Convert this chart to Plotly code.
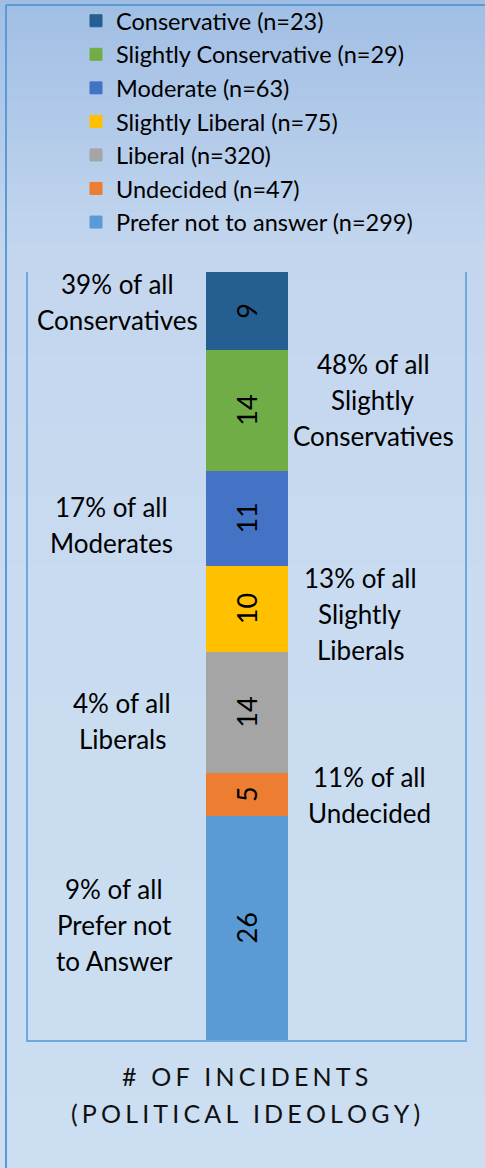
import plotly.graph_objects as go

# Ideology groups, stacked from the bottom of the bar upwards
groups = ["Prefer not to answer", "Undecided", "Liberal", "Slightly Liberal",
          "Moderate", "Slightly Conservative", "Conservative"]
group_plural = ["Prefer not<br>to Answer", "Undecided", "Liberals", "Slightly<br>Liberals",
                "Moderates", "Slightly<br>Conservatives", "Conservatives"]
respondents = [299, 47, 320, 75, 63, 29, 23]
incidents = [26, 5, 14, 10, 11, 14, 9]
colors = ["#5b9bd5", "#ed7d31", "#a5a5a5", "#ffc000", "#4472c4", "#70ad47", "#255e91"]
label_side = ["left", "right", "left", "right", "left", "right", "left"]
title_lines = ["# OF INCIDENTS", "(POLITICAL IDEOLOGY)"]

W, H = 485, 1168
ML, MR, MT, MB = 28, 20, 272, 128
PW, PH = W - ML - MR, H - MT - MB
FONT = "Lato, 'Open Sans', sans-serif"


def px_x(px):
    return (px - ML) / PW


def px_y(py):
    return (H - MB - py) / PH


fig = go.Figure()
for name, n, v, c in zip(groups, respondents, incidents, colors):
    fig.add_trace(go.Bar(
        x=[""], y=[v], name=f"{name} (n={n})",
        marker=dict(color=c, line=dict(width=1, color=c)),
        text=[str(v)], textposition="inside", insidetextanchor="middle",
        textangle=-90, textfont=dict(color="black", size=27, family=FONT),
        hoverinfo="skip",
    ))

# Background: vertical gradient built from thin bands
stops = [(0, (160, 190, 228)), (250, (195, 214, 238)),
         (600, (200, 219, 240)), (H, (204, 222, 241))]


def grad(py):
    for (y0, c0), (y1, c1) in zip(stops[:-1], stops[1:]):
        if y0 <= py <= y1:
            t = (py - y0) / (y1 - y0)
            return tuple(round(a + (b - a) * t) for a, b in zip(c0, c1))
    return stops[-1][1]


shapes = []
step = 4
for py in range(0, H, step):
    r, g, b = grad(py + step / 2)
    shapes.append(dict(type="rect", xref="paper", yref="paper", layer="below",
                       x0=px_x(-5), x1=px_x(W + 5), y0=px_y(py + step + 0.5), y1=px_y(py - 0.5),
                       fillcolor=f"rgb({r},{g},{b})", line=dict(width=0)))

# Outer chart frame (top and left edges visible)
frame = "#5b9bd5"
shapes.append(dict(type="line", xref="paper", yref="paper", x0=px_x(6), x1=px_x(W + 10),
                   y0=px_y(5), y1=px_y(5), line=dict(color=frame, width=2)))
shapes.append(dict(type="line", xref="paper", yref="paper", x0=px_x(6), x1=px_x(6),
                   y0=px_y(5), y1=px_y(H + 10), line=dict(color=frame, width=2)))

# Share-of-group labels beside each segment, one annotation per text line
annotations = []
x_center = {"left": 116, "right": 368}
label_x_nudge = [-2, 1, 6, -8, -5, 5, 1]
label_y_nudge = [3, -1, -9, -5, -7, 10, 9]
LINE_H = 36
base = 0
for v, n, plural, side, dx, dy in zip(incidents, respondents, group_plural, label_side,
                                      label_x_nudge, label_y_nudge):
    mid = base + v / 2
    base += v
    pct = round(100 * v / n)
    lines = [f"{pct}% of all"] + plural.split("<br>")
    m = len(lines)
    for k, line in enumerate(lines):
        annotations.append(dict(
            text=line, xref="paper", yref="y",
            x=px_x(x_center[side] + dx), y=mid, xanchor="center", yanchor="middle",
            yshift=dy + ((m - 1) / 2 - k) * LINE_H,
            showarrow=False, align="center", font=dict(size=26, color="black", family=FONT)))

# Axis title with widened letter spacing
for k, line in enumerate(title_lines):
    spaced = "\u2006".join(line)
    annotations.append(dict(text=spaced, xref="paper", yref="paper", x=px_x(245),
                            y=px_y(1076 + 37 * k), xanchor="center", yanchor="middle",
                            showarrow=False, align="center",
                            font=dict(size=25, color="#111111", family=FONT)))

fig.update_layout(
    width=W, height=H, barmode="stack", bargap=1 - 81 / PW,
    margin=dict(l=ML, r=MR, t=MT, b=MB, autoexpand=False),
    paper_bgcolor="rgb(200,219,240)", plot_bgcolor="rgba(0,0,0,0)",
    showlegend=True,
    legend=dict(traceorder="reversed",
                x=px_x(76), y=px_y(-1), xanchor="left", yanchor="top",
                bgcolor="rgba(0,0,0,0)", borderwidth=0,
                font=dict(size=23.5, color="black", family=FONT)),
    xaxis=dict(showticklabels=False, ticks="", showgrid=False, zeroline=False,
               showline=True, linecolor="#6fa8dc", linewidth=2, mirror=False, fixedrange=True),
    yaxis=dict(range=[0, sum(incidents)], showticklabels=False, ticks="", showgrid=False,
               zeroline=False, showline=True, linecolor="#6fa8dc", linewidth=2, mirror=True,
               fixedrange=True),
    shapes=shapes, annotations=annotations,
)

fig.write_html("out.html")
